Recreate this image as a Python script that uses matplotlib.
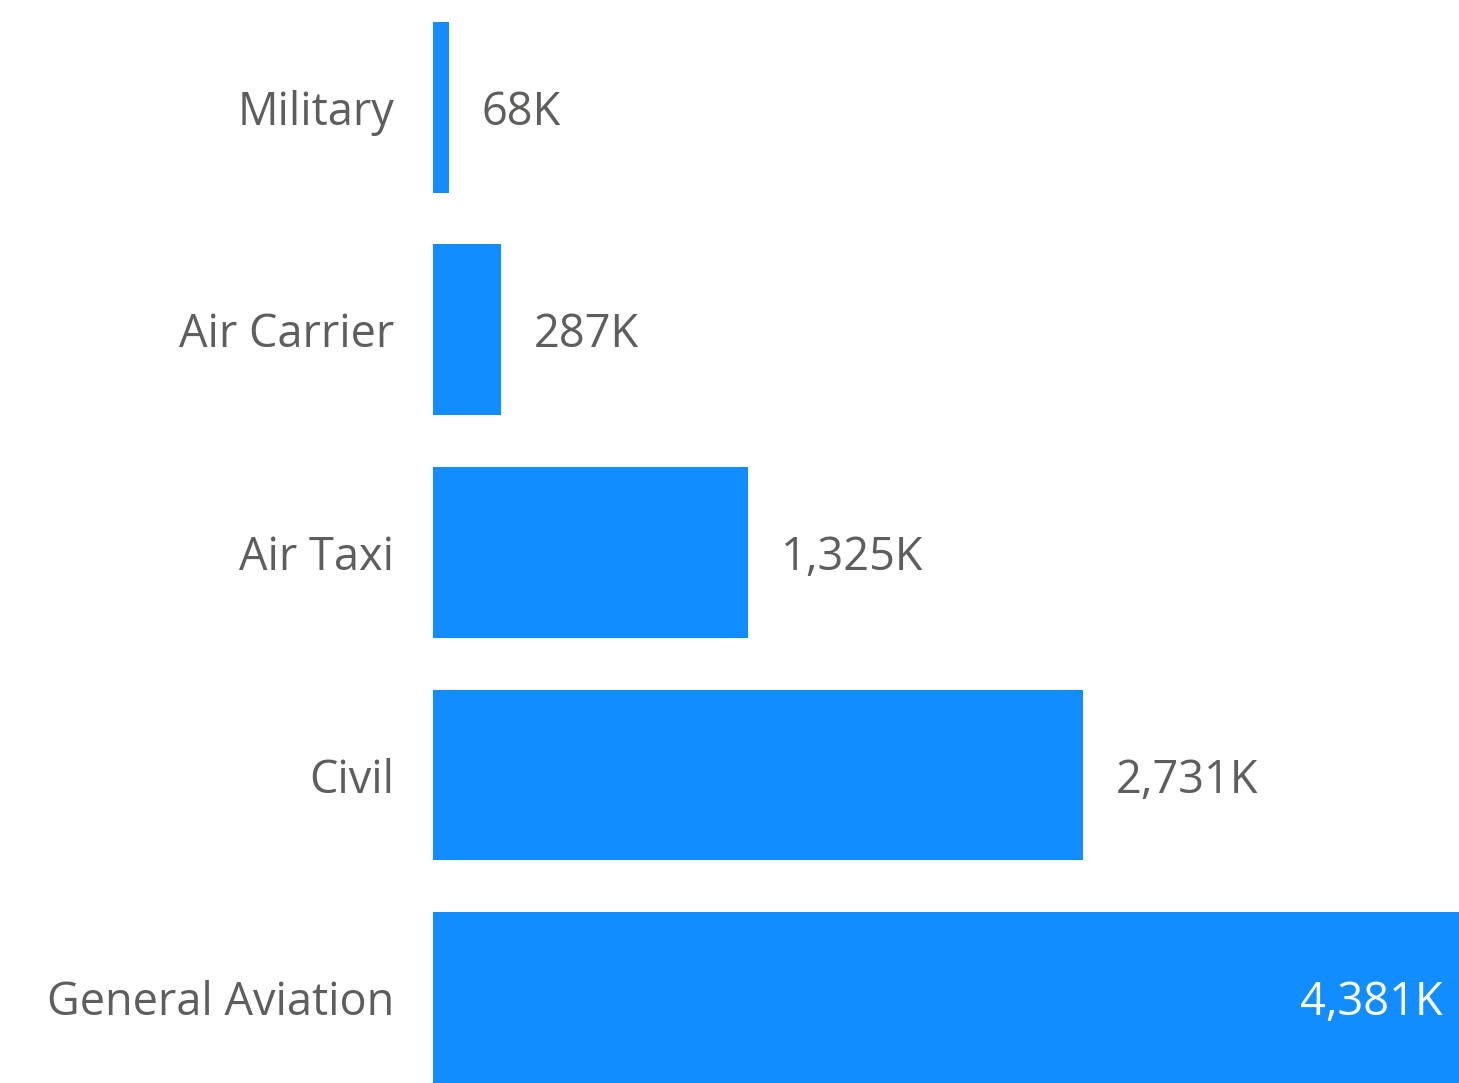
import matplotlib
matplotlib.use("Agg")
import matplotlib.pyplot as plt

categories = ["Military", "Air Carrier", "Air Taxi", "Civil", "General Aviation"]
values = [68, 287, 1325, 2731, 4381]  # thousands
labels = ["68K", "287K", "1,325K", "2,731K", "4,381K"]

W, H = 1459, 1083
fig = plt.figure(figsize=(W / 100, H / 100), dpi=100)
ax = fig.add_axes([433 / W, 0, 1 - 433 / W, 1])

bar_color = "#118DFF"
text_color = "#605E5C"
font = "Open Sans"
fs = 32.5

ypos = list(range(len(categories)))
ax.barh(ypos, values, height=0.768, color=bar_color, left=0)
ax.set_xlim(0, 4310)
ax.set_ylim(4 + 0.384, -0.4826)
ax.set_yticks(ypos)
ax.set_yticklabels(categories, fontsize=fs, color=text_color, family=font,
                   va="center_baseline")
ax.tick_params(axis="y", length=0, pad=28)
ax.set_xticks([])
for s in ax.spines.values():
    s.set_visible(False)

xmax = 4310
for y, v, lab in zip(ypos, values, labels):
    if v > xmax * 0.9:
        ax.text(xmax - 70, y, lab, ha="right", va="center_baseline", fontsize=fs,
                color="white", family=font)
    else:
        ax.text(v + 135, y, lab, ha="left", va="center_baseline", fontsize=fs,
                color=text_color, family=font)

fig.savefig("out.png", dpi=100)
